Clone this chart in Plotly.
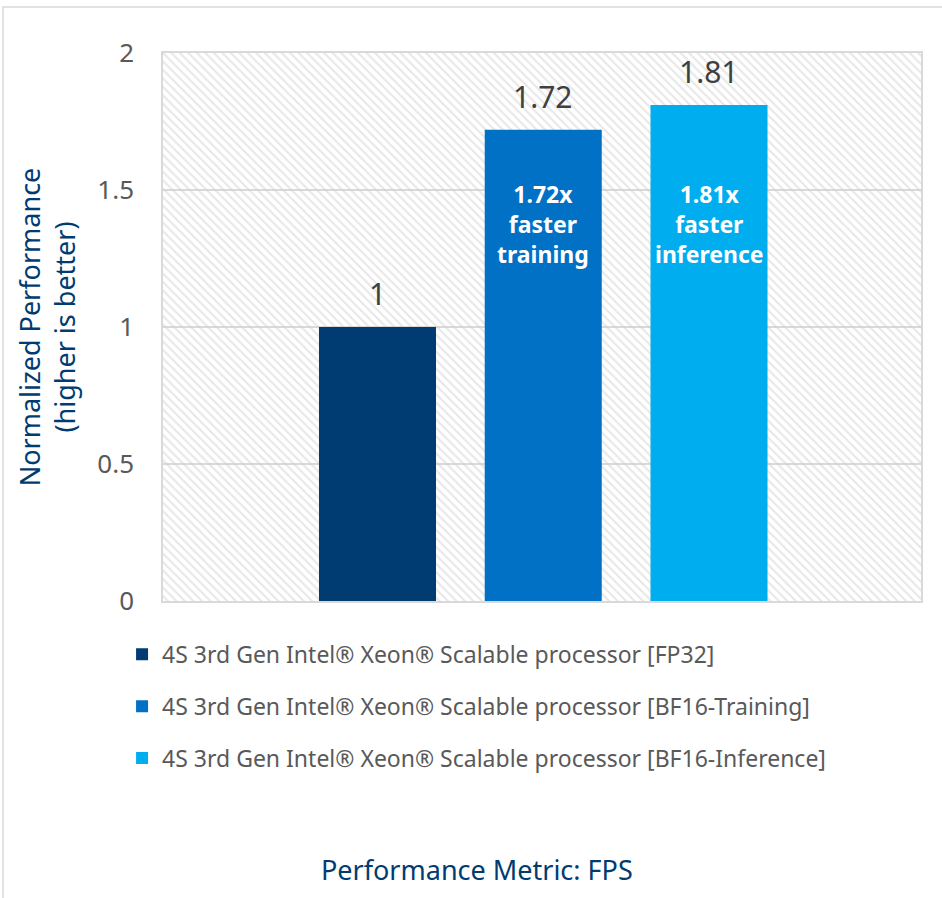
import plotly.graph_objects as go

series_names = [
    "4S 3rd Gen Intel® Xeon® Scalable processor [FP32]",
    "4S 3rd Gen Intel® Xeon® Scalable processor [BF16-Training]",
    "4S 3rd Gen Intel® Xeon® Scalable processor [BF16-Inference]",
]
values = [1.0, 1.72, 1.81]
value_labels = ["1", "1.72", "1.81"]
inner_labels = ["", "1.72x<br>faster<br>training", "1.81x<br>faster<br>inference"]
colors = ["#003C71", "#0071C5", "#00AEEF"]
positions = [0, 1, 2]
y_ticks = [0, 0.5, 1, 1.5, 2]
y_tick_labels = ["0", "0.5", "1", "1.5", "2"]
category_label = "Performance Metric: FPS"

FONT = "Noto Sans"
x_range = [-1.294, 3.279]
y_range = [0, 2]
inner_label_y = 1.376

fig = go.Figure()

# hatched plot-area background
fig.add_trace(go.Bar(
    x=[(x_range[0] + x_range[1]) / 2], y=[y_range[1]], width=[x_range[1] - x_range[0]],
    marker=dict(color="rgba(0,0,0,0)", line=dict(width=0),
                pattern=dict(shape="\\", fgcolor="#cfcfcf", bgcolor="rgba(0,0,0,0)",
                             size=6, solidity=0.35, fillmode="overlay")),
    showlegend=False, hoverinfo="skip",
))

for i, (name, v, col, pos) in enumerate(zip(series_names, values, colors, positions)):
    fig.add_trace(go.Bar(
        x=[pos], y=[v], width=[0.706], name=name,
        marker=dict(color=col, line=dict(width=0)),
        legendgroup=f"g{i}",
    ))

for pos, v, lab in zip(positions, values, value_labels):
    fig.add_annotation(x=pos, y=v, text=lab, showarrow=False,
                       yanchor="bottom", yshift=11, xanchor="center",
                       font=dict(family=FONT, size=30, color="#404040"))

for pos, txt in zip(positions, inner_labels):
    if txt:
        fig.add_annotation(x=pos, y=inner_label_y, text=f"<b>{txt}</b>", showarrow=False,
                           yanchor="middle", xanchor="center",
                           font=dict(family=FONT, size=23, color="white"))

fig.add_annotation(x=(477 - 163) / 758, xref="paper", y=-0.49, yref="paper", text=category_label,
                   showarrow=False, xanchor="center", yanchor="middle",
                   font=dict(family=FONT, size=27, color="#003C71"))

fig.add_shape(type="rect", xref="paper", yref="paper",
              x0=-160 / 758, x1=1.1, y0=-0.6, y1=1 + 46 / 548,
              line=dict(color="#d9d9d9", width=1.5), layer="below")

fig.update_layout(
    width=942, height=898,
    margin=dict(l=163, r=21, t=53, b=297),
    paper_bgcolor="white", plot_bgcolor="white",
    barmode="overlay",
    font=dict(family=FONT, color="#595959"),
    showlegend=True,
    legend=dict(orientation="v", x=-0.054, xanchor="left", y=-0.058, yanchor="top",
                font=dict(family=FONT, size=23, color="#595959"),
                tracegroupgap=19, traceorder="grouped", bgcolor="rgba(0,0,0,0)"),
    xaxis=dict(range=x_range, showticklabels=False, showgrid=False, zeroline=False,
               showline=True, mirror=True, linecolor="#d9d9d9", linewidth=1.5, ticks=""),
    yaxis=dict(range=y_range, tickvals=y_ticks, ticktext=y_tick_labels,
               showgrid=True, gridcolor="#d9d9d9", gridwidth=1.5, zeroline=False,
               showline=True, mirror=True, linecolor="#d9d9d9", linewidth=1.5,
               ticks="", ticklabelstandoff=22,
               tickfont=dict(family=FONT, size=26, color="#595959"),
               title=dict(text="Normalized Performance<br>(higher is better)", standoff=14,
                          font=dict(family=FONT, size=27, color="#003C71"))),
)

fig.write_html("out.html")
